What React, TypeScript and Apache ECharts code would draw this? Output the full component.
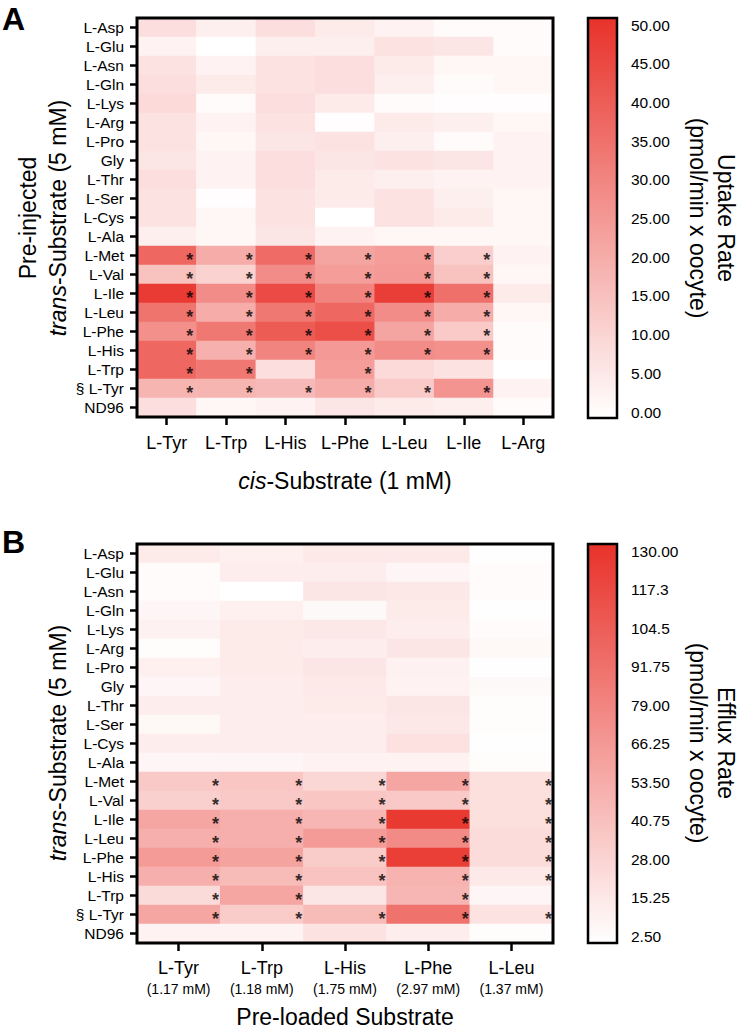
import React, { useEffect, useRef } from "react";
import * as echarts from "echarts";

const rowLabels = [
  "L-Asp", "L-Glu", "L-Asn", "L-Gln", "L-Lys", "L-Arg", "L-Pro", "Gly", "L-Thr", "L-Ser",
  "L-Cys", "L-Ala", "L-Met", "L-Val", "L-Ile", "L-Leu", "L-Phe", "L-His", "L-Trp", "§ L-Tyr", "ND96",
];
const colsA = ["L-Tyr", "L-Trp", "L-His", "L-Phe", "L-Leu", "L-Ile", "L-Arg"];
const colsB = ["L-Tyr", "L-Trp", "L-His", "L-Phe", "L-Leu"];
const concB = ["(1.17 mM)", "(1.18 mM)", "(1.75 mM)", "(2.97 mM)", "(1.37 mM)"];

// Uptake rate (pmol/min x oocyte), rows = rowLabels, columns = colsA
const uptake = [
  [8, 4, 8, 5, 3, 1, 1],
  [3, 0, 4, 4, 7, 6, 1],
  [7, 3, 7, 8, 5, 2, 2],
  [8, 5, 7, 8, 4, 1, 2],
  [9, 1, 8, 5, 1, 0.5, 0.5],
  [7, 3, 7, 0.5, 5, 4, 2],
  [7, 2, 6, 7, 4, 1, 3],
  [6, 3, 8, 6, 7, 6, 3],
  [8, 3, 8, 5, 4, 3, 3],
  [7, 0.5, 7, 5, 7, 4, 2],
  [7, 2, 7, 0, 7, 5, 2],
  [4, 2, 6, 3, 2, 2, 2],
  [37, 20, 36, 22, 24, 12, 3],
  [15, 11, 28, 24, 25, 15, 2],
  [48, 28, 44, 30, 47, 35, 5],
  [34, 20, 33, 37, 28, 20, 2],
  [27, 33, 40, 43, 22, 13, 1],
  [37, 19, 30, 25, 28, 27, 1],
  [37, 33, 8, 24, 9, 7, 0],
  [18, 18, 17, 20, 13, 26, 3],
  [8, 2, 3, 6, 5, 4, 1],
];

// Efflux rate (pmol/min x oocyte), rows = rowLabels, columns = colsB
const efflux = [
  [15, 12, 16, 16, 3],
  [5, 14, 14, 8, 5],
  [5, 2.5, 18, 17, 5],
  [8, 12, 6, 15, 3],
  [11, 15, 17, 14, 5],
  [4, 15, 14, 18, 7],
  [12, 15, 18, 11, 3],
  [8, 14, 16, 10, 6],
  [14, 14, 15, 18, 4],
  [7, 14, 13, 17, 4],
  [13, 14, 14, 21, 3],
  [8, 8, 10, 10, 4],
  [36, 38, 28, 58, 22],
  [32, 36, 38, 36, 22],
  [58, 52, 48, 125, 22],
  [52, 52, 65, 75, 24],
  [65, 60, 35, 122, 24],
  [52, 45, 40, 50, 16],
  [25, 58, 18, 48, 8],
  [58, 35, 45, 90, 20],
  [10, 10, 20, 13, 4],
];

// significant cells (*) per row: column indices
const sigA = [
  [], [], [], [], [], [], [], [], [], [], [], [],
  [0, 1, 2, 3, 4, 5], [0, 1, 2, 3, 4, 5], [0, 1, 2, 3, 4, 5], [0, 1, 2, 3, 4, 5],
  [0, 1, 2, 3, 4, 5], [0, 1, 2, 3, 4, 5], [0, 1, 3], [0, 1, 2, 3, 4, 5], [],
];
const sigB = [
  [], [], [], [], [], [], [], [], [], [], [], [],
  [0, 1, 2, 3, 4], [0, 1, 2, 3, 4], [0, 1, 2, 3, 4], [0, 1, 2, 3, 4],
  [0, 1, 2, 3, 4], [0, 1, 2, 3, 4], [0, 1, 3], [0, 1, 2, 3, 4], [],
];

const ticksA = ["0.00", "5.00", "10.00", "15.00", "20.00", "25.00", "30.00", "35.00", "40.00", "45.00", "50.00"];
const ticksB = ["2.50", "15.25", "28.00", "40.75", "53.50", "66.25", "79.00", "91.75", "104.5", "117.3", "130.00"];
const rangeA = [0, 50];
const rangeB = [2.5, 130];

const FONT = "'Liberation Sans', Arial, Helvetica, sans-serif";
const RED = "#e8322a";

export default function App() {
  const ref = useRef<HTMLDivElement>(null);
  useEffect(() => {
    if (!ref.current) return;
    const chart = echarts.init(ref.current, null, { renderer: "svg" });

    const gA = { left: 137, top: 18, width: 416, height: 399 };
    const gB = { left: 137, top: 544, width: 416, height: 399 };
    const cA = { left: 588, top: 25, width: 29, height: 387 };
    const cB = { left: 588, top: 551, width: 29, height: 385 };

    const heatA = uptake.flatMap((row, r) => row.map((v, c) => [c, r, v]));
    const heatB = efflux.flatMap((row, r) => row.map((v, c) => [c, r, v]));
    const starsA = sigA.flatMap((cols, r) => cols.map((c) => [c, r]));
    const starsB = sigB.flatMap((cols, r) => cols.map((c) => [c, r]));

    const tickStyle = { color: "#000", width: 2.5 };
    const catY = (gi: number) => ({
      type: "category",
      gridIndex: gi,
      data: rowLabels,
      inverse: true,
      axisLine: { show: false },
      axisTick: { show: true, length: 7, alignWithLabel: true, lineStyle: tickStyle },
      axisLabel: { interval: 0, color: "#000", fontSize: 15.5, fontFamily: FONT, margin: 13 },
      splitLine: { show: false },
    });

    const starSeries = (xi: number, data: number[][], dx: number) => ({
      type: "scatter",
      xAxisIndex: xi,
      yAxisIndex: xi,
      data,
      symbolSize: 1,
      itemStyle: { color: "transparent" },
      silent: true,
      z: 5,
      label: {
        show: true,
        formatter: "*",
        position: "inside",
        offset: [dx, 4],
        color: "#000",
        fontSize: 18,
        fontWeight: "bold",
        fontFamily: FONT,
      },
    });

    const vText = (x: number, y: number, text: string, rot: number, rich?: any) => ({
      type: "text",
      x,
      y,
      rotation: rot,
      z: 10,
      style: {
        text,
        fill: "#000",
        fontSize: 23,
        fontFamily: FONT,
        align: "center",
        verticalAlign: "middle",
        rich,
      },
    });
    const italic = { i: { fontStyle: "italic", fontSize: 23, fontFamily: FONT, fill: "#000" } };

    const grad = () =>
      new echarts.graphic.LinearGradient(0, 0, 0, 1, [
        { offset: 0, color: RED },
        { offset: 1, color: "#ffffff" },
      ]);

    chart.setOption({
      animation: false,
      backgroundColor: "#fff",
      grid: [
        { ...gA, containLabel: false },
        { ...gB, containLabel: false },
        { ...cA, containLabel: false },
        { ...cB, containLabel: false },
      ],
      xAxis: [
        {
          type: "category",
          gridIndex: 0,
          data: colsA,
          axisLine: { show: false },
          axisTick: { show: true, length: 8, alignWithLabel: true, lineStyle: tickStyle },
          axisLabel: { interval: 0, color: "#000", fontSize: 18, fontFamily: FONT, margin: 17 },
        },
        {
          type: "category",
          gridIndex: 1,
          data: colsB,
          axisLine: { show: false },
          axisTick: { show: true, length: 8, alignWithLabel: true, lineStyle: tickStyle },
          axisLabel: {
            interval: 0,
            margin: 14,
            formatter: (v: string, i: number) => `{a|${v}}\n{b|${concB[i]}}`,
            rich: {
              a: { fontSize: 18, lineHeight: 22, color: "#000", fontFamily: FONT },
              b: { fontSize: 14, lineHeight: 20, color: "#000", fontFamily: FONT },
            },
          },
        },
        { type: "value", gridIndex: 2, show: false, min: 0, max: 1 },
        { type: "value", gridIndex: 3, show: false, min: 0, max: 1 },
      ],
      yAxis: [
        catY(0),
        catY(1),
        {
          type: "value",
          gridIndex: 2,
          position: "right",
          min: rangeA[0],
          max: rangeA[1],
          interval: 5,
          axisLine: { show: false },
          axisTick: { show: true, length: 9, lineStyle: { color: "#000", width: 2 } },
          splitLine: { show: false },
          axisLabel: {
            color: "#000",
            fontSize: 15.5,
            fontFamily: FONT,
            margin: 14,
            formatter: (v: number) => ticksA[Math.round(v / 5)],
          },
        },
        {
          type: "value",
          gridIndex: 3,
          position: "right",
          min: 0,
          max: rangeB[1] - rangeB[0],
          interval: 12.75,
          axisLine: { show: false },
          axisTick: { show: true, length: 9, lineStyle: { color: "#000", width: 2 } },
          splitLine: { show: false },
          axisLabel: {
            color: "#000",
            fontSize: 15.5,
            fontFamily: FONT,
            margin: 14,
            formatter: (v: number) => ticksB[Math.round(v / 12.75)],
          },
        },
      ],
      visualMap: [
        {
          type: "continuous",
          show: false,
          seriesIndex: 0,
          min: rangeA[0],
          max: rangeA[1],
          inRange: { color: ["#ffffff", RED] },
        },
        {
          type: "continuous",
          show: false,
          seriesIndex: 2,
          min: rangeB[0],
          max: rangeB[1],
          inRange: { color: ["#ffffff", RED] },
        },
      ],
      series: [
        { type: "heatmap", xAxisIndex: 0, yAxisIndex: 0, data: heatA, itemStyle: { borderWidth: 0 } },
        starSeries(0, starsA, 23),
        { type: "heatmap", xAxisIndex: 1, yAxisIndex: 1, data: heatB, itemStyle: { borderWidth: 0 } },
        starSeries(1, starsB, 37),
      ],
      graphic: [
        { type: "rect", shape: { x: gA.left, y: gA.top, width: gA.width, height: gA.height }, style: { fill: "none", stroke: "#000", lineWidth: 3 }, z: 20 },
        { type: "rect", shape: { x: gB.left, y: gB.top, width: gB.width, height: gB.height }, style: { fill: "none", stroke: "#000", lineWidth: 3 }, z: 20 },
        { type: "rect", shape: { x: 588, y: 18, width: 29, height: 400 }, style: { fill: grad(), stroke: "#000", lineWidth: 2.5 }, z: 20 },
        { type: "rect", shape: { x: 588, y: 544, width: 29, height: 399 }, style: { fill: grad(), stroke: "#000", lineWidth: 2.5 }, z: 20 },
        { type: "text", x: 2, y: 19, z: 10, style: { text: "A", fill: "#000", fontSize: 32, fontWeight: "bold", fontFamily: FONT, align: "left", verticalAlign: "middle" } },
        { type: "text", x: 2, y: 542, z: 10, style: { text: "B", fill: "#000", fontSize: 32, fontWeight: "bold", fontFamily: FONT, align: "left", verticalAlign: "middle" } },
        vText(28, 218, "Pre-injected", Math.PI / 2),
        vText(58, 218, "{i|trans}-Substrate (5 mM)", Math.PI / 2, italic),
        vText(58, 743, "{i|trans}-Substrate (5 mM)", Math.PI / 2, italic),
        vText(345, 481, "{i|cis}-Substrate (1 mM)", 0, italic),
        vText(345, 1017, "Pre-loaded Substrate", 0),
        vText(726, 218, "Uptake Rate", -Math.PI / 2),
        vText(698, 218, "(pmol/min x oocyte)", -Math.PI / 2),
        vText(726, 743, "Efflux Rate", -Math.PI / 2),
        vText(698, 743, "(pmol/min x oocyte)", -Math.PI / 2),
      ],
    });
    return () => chart.dispose();
  }, []);
  return <div ref={ref} style={{ position: "absolute", left: 0, top: 0, width: 738, height: 1030 }} />;
}
